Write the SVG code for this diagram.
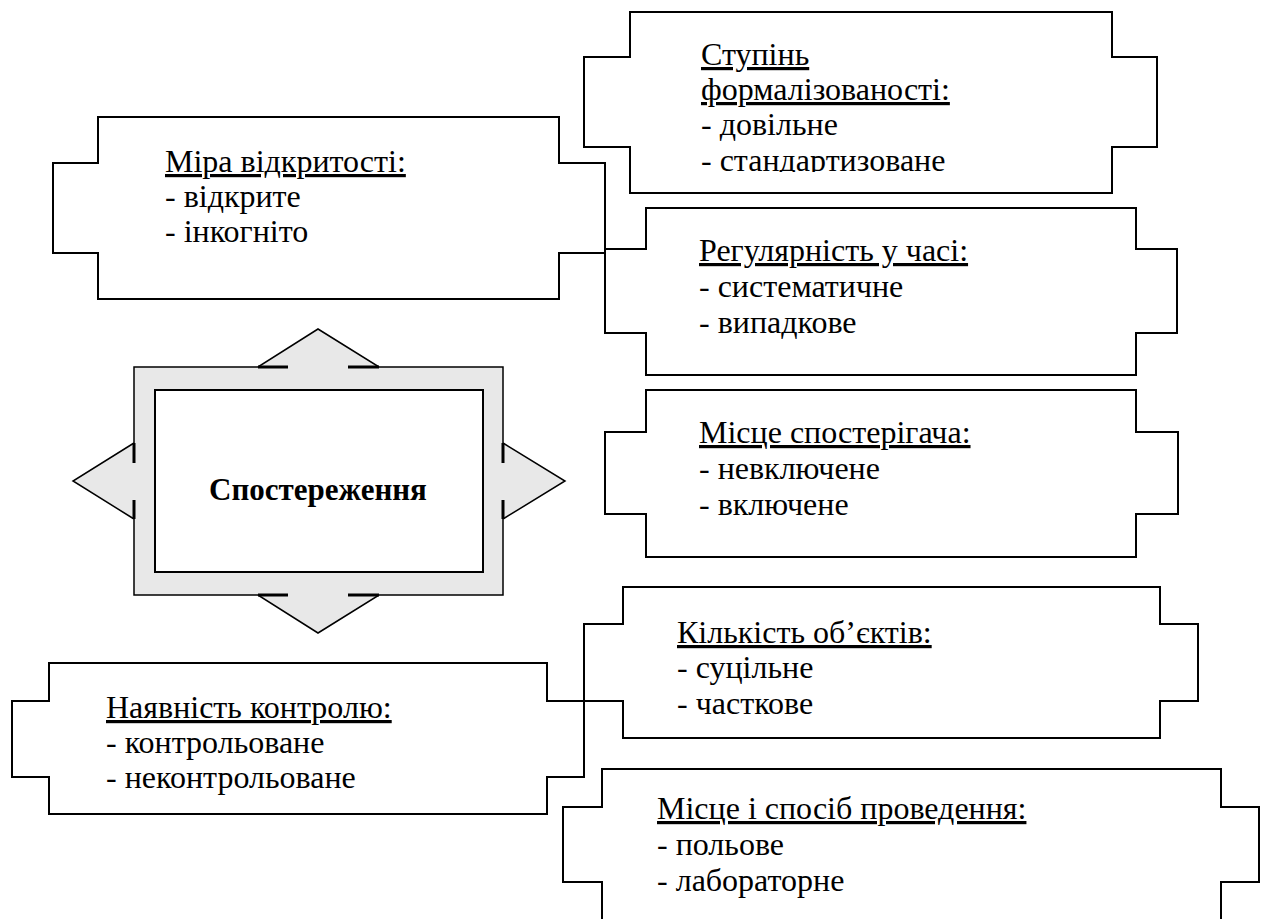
<svg xmlns="http://www.w3.org/2000/svg" width="1269" height="919" viewBox="0 0 1269 919">
<style>
.box{fill:#fff;stroke:#000;stroke-width:2}
.t{font-family:"Liberation Serif","Times New Roman","DejaVu Serif",serif;font-size:32px;fill:#000}
.u{text-decoration:underline}
.frame{fill:#e8e8e8;stroke:#000;stroke-width:1.5;stroke-linejoin:miter}
.inner{fill:#fff;stroke:#000;stroke-width:2}
.neck{stroke:#000;stroke-width:3;fill:none}
.title{font-family:"Liberation Serif","Times New Roman","DejaVu Serif",serif;font-size:31px;font-weight:bold;fill:#000}
</style>
<defs>
<clipPath id="clipS"><rect x="630" y="12" width="482" height="160"/></clipPath>
</defs>
<rect width="1269" height="919" fill="#fff"/>

<g id="center">
<path class="frame" d="M134,367 H258 L318,329 L379,367 H503 V443 L565,481 L503,519 V595 H379 L318,633 L258,595 H134 V519 L73,481 L134,443 Z"/>
<path class="neck" d="M258,367 H288 M348,367 H379 M258,595 H288 M348,595 H379 M134,443 V463 M134,500 V519 M503,443 V463 M503,500 V519"/>
<rect class="inner" x="155" y="390" width="328" height="182"/>
<text class="title" x="318" y="500" text-anchor="middle">Спостереження</text>
</g>

<g id="stupin">
<path class="box" d="M630,12 H1112 V57 H1157 V147 H1112 V193 H630 V147 H584 V57 H630 Z"/>
<g clip-path="url(#clipS)">
<text class="t" x="701" y="65"><tspan class="u">Ступінь</tspan></text>
<text class="t" x="701" y="100"><tspan class="u">формалізованості:</tspan></text>
<text class="t" x="701" y="135">- довільне</text>
<text class="t" x="701" y="171">- стандартизоване</text>
</g>
</g>

<g id="mira">
<path class="box" d="M98,117 H559 V163 H605 V253 H559 V299 H98 V253 H53 V163 H98 Z"/>
<text class="t" x="165" y="172"><tspan class="u">Міра відкритості:</tspan></text>
<text class="t" x="165" y="207">- відкрите</text>
<text class="t" x="165" y="242">- інкогніто</text>
</g>

<g id="rehuliarnist">
<path class="box" d="M646,208 H1136 V249 H1177 V333 H1136 V375 H646 V333 H605 V249 H646 Z"/>
<text class="t" x="699" y="261"><tspan class="u">Регулярність у часі:</tspan></text>
<text class="t" x="699" y="297">- систематичне</text>
<text class="t" x="699" y="333">- випадкове</text>
</g>

<g id="mistse">
<path class="box" d="M646,390 H1136 V432 H1178 V514 H1136 V557 H646 V514 H605 V432 H646 Z"/>
<text class="t" x="699" y="443"><tspan class="u">Місце спостерігача:</tspan></text>
<text class="t" x="699" y="479">- невключене</text>
<text class="t" x="699" y="515">- включене</text>
</g>

<g id="kilkist">
<path class="box" d="M623,587 H1160 V624 H1198 V701 H1160 V738 H623 V701 H584 V624 H623 Z"/>
<text class="t" x="677" y="643"><tspan class="u">Кількість об’єктів:</tspan></text>
<text class="t" x="677" y="678">- суцільне</text>
<text class="t" x="677" y="714">- часткове</text>
</g>

<g id="naiavnist">
<path class="box" d="M49,663 H547 V701 H584 V777 H547 V814 H49 V777 H12 V701 H49 Z"/>
<text class="t" x="106" y="718"><tspan class="u">Наявність контролю:</tspan></text>
<text class="t" x="106" y="753">- контрольоване</text>
<text class="t" x="106" y="788">- неконтрольоване</text>
</g>

<g id="mistse-sposib">
<path class="box" d="M602,769 H1221 V807 H1259 V882 H1221 V930 H602 V882 H563 V807 H602 Z"/>
<text class="t" x="657" y="819"><tspan class="u">Місце і спосіб проведення:</tspan></text>
<text class="t" x="657" y="855">- польове</text>
<text class="t" x="657" y="891">- лабораторне</text>
</g>

<g id="connectors"></g>
</svg>
